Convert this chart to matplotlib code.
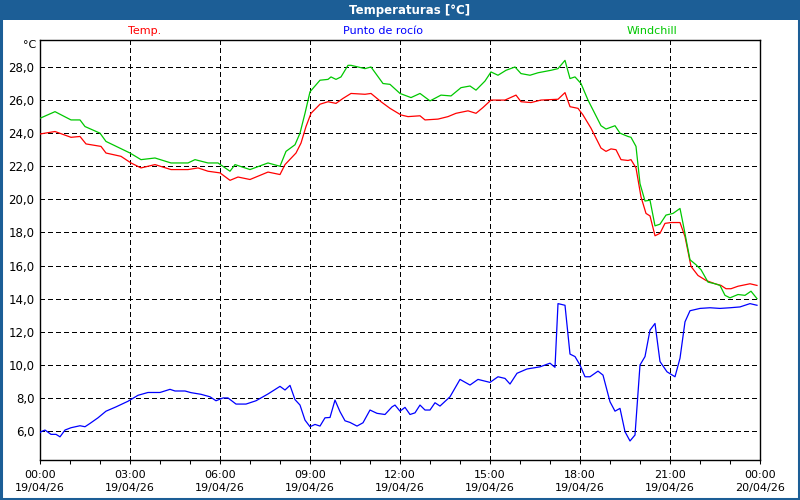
import matplotlib
matplotlib.use("Agg")
import matplotlib.pyplot as plt
from matplotlib.patches import Rectangle

# ---- data (minutes since 19/04/26 00:00, value in °C) ----
temp = [(0, 23.95), (30, 24.1), (62, 23.75), (80, 23.8), (92, 23.35), (122, 23.2), (132, 22.8),
        (162, 22.6), (182, 22.2), (202, 21.9), (230, 22.1), (262, 21.8), (296, 21.8), (316, 21.9),
        (336, 21.7), (360, 21.6), (380, 21.15), (396, 21.35), (420, 21.2), (456, 21.65), (480, 21.5),
        (490, 22.1), (512, 22.8), (522, 23.4), (532, 24.4), (542, 25.2), (560, 25.75), (576, 25.9),
        (592, 25.8), (606, 26.1), (622, 26.4), (650, 26.35), (662, 26.4), (682, 25.9), (700, 25.5),
        (722, 25.1), (736, 25.0), (760, 25.05), (770, 24.8), (796, 24.85), (816, 25.0), (832, 25.2),
        (856, 25.35), (872, 25.2), (886, 25.55), (902, 26.0), (930, 26.0), (952, 26.3), (962, 25.9),
        (982, 25.85), (1002, 26.0), (1036, 26.05), (1050, 26.45), (1060, 25.6), (1076, 25.5),
        (1086, 25.1), (1102, 24.3), (1122, 23.1), (1132, 22.9), (1142, 23.05), (1152, 23.0),
        (1162, 22.4), (1176, 22.35), (1182, 22.4), (1192, 21.9), (1202, 20.15), (1212, 19.15),
        (1220, 19.0), (1230, 17.8), (1240, 17.95), (1250, 18.55), (1262, 18.6), (1280, 18.6),
        (1290, 17.75), (1302, 15.95), (1316, 15.4), (1332, 15.1), (1350, 14.9), (1362, 14.8),
        (1372, 14.6), (1382, 14.6), (1396, 14.75), (1420, 14.9), (1434, 14.8)]

dewpoint = [(0, 5.9), (2, 5.96), (10, 6.06), (22, 5.8), (32, 5.8), (40, 5.65), (50, 6.06), (62, 6.2),
            (80, 6.32), (90, 6.26), (100, 6.46), (116, 6.8), (132, 7.2), (152, 7.46), (176, 7.8),
            (196, 8.16), (216, 8.33), (240, 8.33), (260, 8.52), (270, 8.42), (290, 8.42), (302, 8.32),
            (322, 8.22), (340, 8.07), (352, 7.83), (366, 8.0), (376, 8.0), (392, 7.63), (412, 7.63),
            (432, 7.83), (456, 8.24), (480, 8.7), (490, 8.48), (500, 8.76), (510, 7.9), (520, 7.57),
            (530, 6.66), (540, 6.26), (550, 6.4), (560, 6.3), (570, 6.8), (580, 6.82), (590, 7.87),
            (600, 7.17), (610, 6.62), (620, 6.52), (634, 6.3), (646, 6.5), (660, 7.27), (674, 7.07),
            (690, 7.0), (704, 7.46), (710, 7.57), (720, 7.2), (730, 7.43), (740, 7.0), (750, 7.1),
            (760, 7.57), (770, 7.27), (780, 7.27), (790, 7.71), (800, 7.51), (820, 8.07), (840, 9.12),
            (860, 8.78), (876, 9.12), (900, 8.94), (916, 9.28), (930, 9.18), (940, 8.84), (954, 9.49),
            (974, 9.75), (1000, 9.88), (1020, 10.1), (1030, 9.85), (1036, 13.7), (1050, 13.6),
            (1060, 10.65), (1070, 10.5), (1080, 9.99), (1090, 9.28), (1100, 9.28), (1116, 9.62),
            (1126, 9.38), (1140, 7.77), (1150, 7.2), (1160, 7.37), (1170, 5.96), (1180, 5.4),
            (1190, 5.76), (1200, 9.99), (1210, 10.5), (1220, 12.1), (1230, 12.5), (1240, 10.2),
            (1254, 9.58), (1270, 9.28), (1280, 10.4), (1290, 12.6), (1300, 13.27), (1320, 13.41),
            (1340, 13.45), (1360, 13.41), (1380, 13.45), (1400, 13.5), (1420, 13.7), (1434, 13.6)]

windchill = [(0, 24.9), (30, 25.3), (62, 24.8), (80, 24.8), (90, 24.4), (120, 24.0), (132, 23.5),
             (156, 23.15), (180, 22.8), (202, 22.4), (230, 22.5), (262, 22.2), (296, 22.2), (310, 22.4),
             (336, 22.2), (356, 22.2), (380, 21.7), (390, 22.1), (420, 21.8), (456, 22.2), (480, 22.0),
             (492, 22.9), (510, 23.3), (520, 24.0), (530, 25.2), (540, 26.5), (560, 27.2), (576, 27.25),
             (582, 27.4), (592, 27.25), (602, 27.4), (616, 28.1), (622, 28.1), (650, 27.9), (662, 28.0),
             (686, 27.0), (700, 26.95), (720, 26.4), (742, 26.15), (760, 26.4), (780, 25.95),
             (802, 26.3), (822, 26.25), (842, 26.75), (860, 26.85), (872, 26.6), (890, 27.15),
             (902, 27.7), (916, 27.5), (932, 27.8), (950, 28.0), (962, 27.6), (980, 27.5), (996, 27.65),
             (1022, 27.8), (1036, 27.9), (1050, 28.4), (1060, 27.3), (1070, 27.4), (1082, 27.0),
             (1096, 26.0), (1122, 24.45), (1132, 24.25), (1150, 24.45), (1160, 24.0), (1176, 23.8),
             (1182, 23.75), (1192, 23.2), (1200, 20.95), (1210, 19.9), (1220, 19.95), (1230, 18.4),
             (1240, 18.5), (1252, 19.05), (1266, 19.15), (1280, 19.45), (1286, 18.55), (1300, 16.35),
             (1312, 16.05), (1322, 15.75), (1336, 15.0), (1350, 14.9), (1360, 14.8), (1370, 14.2),
             (1380, 14.05), (1396, 14.25), (1410, 14.2), (1422, 14.45), (1434, 14.0)]

tick_minutes = [0, 180, 360, 540, 720, 900, 1080, 1260, 1440]
tick_labels = ["00:00\n19/04/26", "03:00\n19/04/26", "06:00\n19/04/26", "09:00\n19/04/26",
               "12:00\n19/04/26", "15:00\n19/04/26", "18:00\n19/04/26", "21:00\n19/04/26",
               "00:00\n20/04/26"]
y_ticks = [6, 8, 10, 12, 14, 16, 18, 20, 22, 24, 26, 28]

series_names = ["Temp.", "Punto de rocío", "Windchill"]
series_colors = ["#ff0000", "#0000ff", "#00c800"]

plt.rcParams['font.family'] = ['DejaVu Sans']

fig = plt.figure(figsize=(8, 5), dpi=100)
fig.patch.set_facecolor("white")

blue = "#1c5e96"
# frame border
fig.patches.append(Rectangle((0.0015, 0.002), 0.997, 0.996, transform=fig.transFigure,
                             fill=False, edgecolor=blue, linewidth=2.2, zorder=0))
# title bar
fig.patches.append(Rectangle((0, 1 - 20 / 500), 1, 20 / 500, transform=fig.transFigure,
                             facecolor=blue, edgecolor="none", zorder=1))
fig.text(0.512, 1 - 10.5 / 500, "Temperaturas [°C]", color="white", fontsize=8.5,
         fontweight="bold", ha="center", va="center")

ax = fig.add_axes([40 / 800, 1 - 460 / 500, 720 / 800, 420 / 500])
ax.set_facecolor("white")

for data, col in zip([temp, dewpoint, windchill], series_colors):
    xs = [p[0] for p in data]
    ys = [p[1] for p in data]
    ax.plot(xs, ys, color=col, linewidth=0.9, zorder=3)

ax.set_xlim(0, 1440)
ax.set_ylim(4.25, 29.63)

ax.set_xticks(tick_minutes)
ax.set_xticklabels(tick_labels, fontsize=8, linespacing=1.45)
ax.set_xticks(list(range(0, 1441, 60)), minor=True)
ax.set_yticks(y_ticks)
ax.set_yticklabels([f"{v:.1f}".replace(".", ",") for v in y_ticks], fontsize=8.5)

ax.tick_params(axis="x", which="both", direction="out", length=3, width=0.75, pad=4, color="black")
ax.tick_params(axis="y", length=0, pad=4)
ax.grid(True, which="major", color="black", linestyle=(0, (4, 3)), linewidth=0.75, zorder=1,
        antialiased=False)
for s in ax.spines.values():
    s.set_color("black")
    s.set_linewidth(1)

fig.text(30 / 800, 1 - 45 / 500, "°C", fontsize=8, ha="center", va="center")

label_x = [145, 383, 652]
for name, col, lx in zip(series_names, series_colors, label_x):
    fig.text(lx / 800, 1 - 31 / 500, name, color=col, fontsize=8, ha="center", va="center")

fig.savefig("out.png", dpi=100, facecolor=fig.get_facecolor())
